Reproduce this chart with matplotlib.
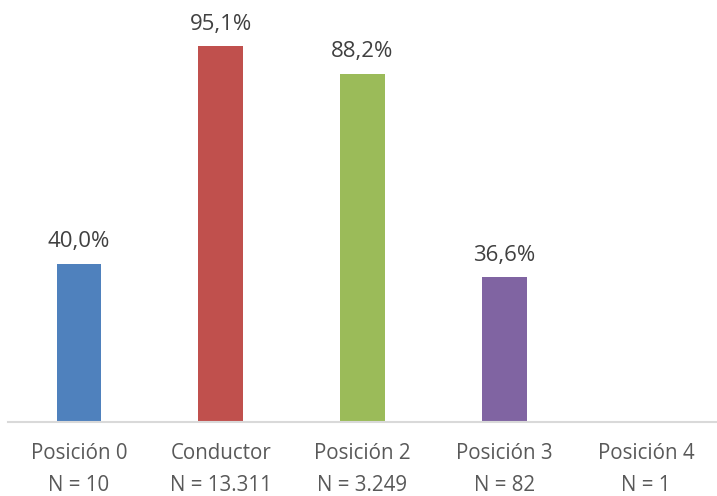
import matplotlib
matplotlib.use("Agg")
import matplotlib.pyplot as plt
import numpy as np

categories = ["Posición 0", "Conductor", "Posición 2", "Posición 3", "Posición 4"]
counts = ["N = 10", "N = 13.311", "N = 3.249", "N = 82", "N = 1"]
values = [40.0, 95.1, 88.2, 36.6, np.nan]
colors = ["#4F81BD", "#C0504D", "#9BBB59", "#8064A2", "#4BACC6"]

plt.rcParams['font.family'] = ['Open Sans', 'DejaVu Sans']
fig = plt.figure(figsize=(7.17, 4.96), dpi=100)
ax = fig.add_axes([8/717, 1 - 422/496, 709/717, (422 - 27)/496])

x = np.arange(len(categories))
vals = np.array(values, dtype=float)
ax.bar(x, np.nan_to_num(vals), width=0.315, color=colors)
for xi, v in zip(x, vals):
    if not np.isnan(v):
        ax.text(xi, v + 3.0, f"{v:.1f}%".replace(".", ","), ha="center", va="bottom",
                fontsize=16, color="#404040")

ax.set_xlim(-0.5, len(categories) - 0.5)
ax.set_ylim(0, 100)
ax.set_yticks([])
ax.set_xticks(x)
ax.set_xticklabels([f"{c}\n{n}" for c, n in zip(categories, counts)], fontsize=14.8,
                   color="#595959", linespacing=1.72)
ax.tick_params(axis="x", length=0, pad=15)
for s in ["top", "right", "left"]:
    ax.spines[s].set_visible(False)
ax.spines["bottom"].set_color("#D9D9D9")
ax.spines["bottom"].set_linewidth(1.5)

fig.savefig("out.png", dpi=100)
